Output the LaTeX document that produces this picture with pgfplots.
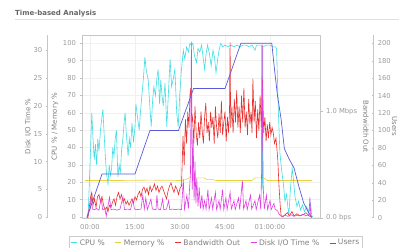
\documentclass[border=0pt]{standalone}
\usepackage{pgfplots}
\pgfplotsset{compat=1.18}
\usepackage{fontspec}
\setmainfont{DejaVu Sans}
\definecolor{cpuc}{HTML}{40DDE4}
\definecolor{memc}{HTML}{E8D43A}
\definecolor{bwc}{HTML}{E8302E}
\definecolor{diskc}{HTML}{E040E0}
\definecolor{usrc}{HTML}{5A5AD8}
\definecolor{txtc}{HTML}{9A9A9A}
\definecolor{labc}{HTML}{808080}
\tikzset{lab/.style={font=\fontsize{7}{8}\selectfont, text=labc}}
\pgfplotsset{
  txt/.style={
    /pgf/number format/assume math mode=true,
    ticklabel style={font=\fontsize{6.8}{7.5}\selectfont, text=txtc},
    tick style={gray!50, thin}, major tick length=2.5pt, tick align=outside,
    axis line style={gray!45},
  },
  common/.style={txt, scale only axis, width=238pt, height=183pt, at={(82pt,30pt)}, anchor=south west,
    xmin=-2.67, xmax=76.67},
}
\begin{document}
\begin{tikzpicture}
\path[use as bounding box] (0,0) rectangle (399pt,248pt);
\node[anchor=base west, inner sep=0pt, font=\bfseries\fontsize{7}{8}\selectfont, text=gray!80!black] at (15pt,232pt) {Time-based Analysis};
\draw[gray!25, line width=0.8pt] (15pt,229pt) -- (399pt,229pt);

% ---------- main axis: CPU / Memory
\begin{axis}[common, ymin=-0.6, ymax=104.8, ytick={0,10,...,100}, ytick pos=left,
  xtick={0,15,30,45,60}, xticklabels={00:00,15:00,30:00,45:00,01:00:00},
  grid=major, grid style={gray!12, thin}, xtick style={draw=none},
  ylabel={CPU \% / Memory \%},
  ylabel style={lab, at={([xshift=-27pt]axis description cs:0,0.5)}, anchor=center}]
\addplot[memc, line width=0.6pt] coordinates {
(-1.7,21) (10,21) (20,21.2) (30,21) (32,21.5) (33,22.5) (38,22.5) (39,21.5) (41,21.5) (42,21) (54,21) (55,22.5) (58,22.5) (59,21) (74,21)
};
\addplot[cpuc, line width=0.6pt] coordinates {
(-1.0,0) (-0.6,2) (0.2,40) (0.6,60) (1.0,45) (1.4,33) (1.8,42) (2.2,30) (2.6,45) (3.0,38) (3.5,50) (4.0,58) (4.3,62) (4.7,48) (5.1,35) (5.5,25) (6.0,19) (6.4,30) (6.8,24) (7.2,28) (7.6,40) (8.0,35) (8.4,45) (8.8,50) (9.3,23) (9.7,30) (10.1,25) (10.5,38) (11.0,46) (11.4,55) (11.7,60) (12.1,48) (12.7,35) (13.1,45) (13.5,40) (14.0,54) (14.5,43) (15.0,52) (15.3,65) (15.8,58) (16.4,50) (16.8,60) (17.3,70) (17.8,80) (18.3,92) (18.8,84) (19.4,79) (19.9,65) (20.4,52) (20.9,68) (21.3,75) (21.8,70) (22.3,80) (22.7,85) (23.2,65) (23.6,79) (24.0,70) (24.4,64) (25.0,77) (25.6,52) (26.1,70) (26.7,91) (27.2,75) (27.8,80) (28.3,85) (28.9,60) (29.4,52) (29.9,70) (30.4,83) (31.1,96) (31.6,91) (32.2,98) (32.8,95) (33.3,100) (33.8,99) (34.3,100) (34.8,93) (35.5,89) (36.0,97) (36.6,95) (37.2,99) (37.7,92) (38.2,85) (38.7,94) (39.2,99) (39.8,94) (40.4,87) (41.0,96) (41.5,92) (42.0,83) (42.5,90) (43.0,96) (43.6,100) (44.2,98) (45,99) (46,98) (47,99) (48,98) (49,99) (50,98) (51,99) (52,99) (53,98) (54,99) (55,96) (55.5,99) (57,99) (57.2,98) (57.3,15) (57.5,20) (57.6,98) (59,99) (60,99) (61,98) (61.8,98) (62.2,97) (62.8,60) (63.3,37) (63.8,28) (64.4,20) (65.0,9) (65.5,13) (66.0,5) (66.3,1) (66.8,16) (67.4,28) (67.8,22) (68.3,12) (69.0,6) (69.5,9) (70.2,4) (70.8,7) (71.5,3) (72.2,6) (72.8,3) (73.5,8) (73.9,1) (74.2,0)
};
\end{axis}

% ---------- bandwidth axis (right)
\begin{axis}[common, ymin=0, ymax=1.72, axis y line*=right, axis x line=none,
  ytick={0,1}, yticklabels={0.0 bps,1.0 Mbps},
  ylabel={Bandwidth Out},
  ylabel style={lab, at={([xshift=46pt]axis description cs:1,0.5)}, anchor=center, rotate=180}]
\addplot[bwc, line width=0.6pt] coordinates {
(-1.0,0) (-0.7,0) (0.2,0.2) (0.6,0.24) (1.0,0.12) (1.5,0.18) (2.0,0.1) (2.5,0.2) (3.0,0.22) (3.5,0.15) (4.0,0.2) (4.5,0.12) (5.0,0.08) (5.5,0.1) (6.0,0.06) (6.5,0.12) (7.0,0.1) (7.5,0.15) (8.0,0.18) (8.5,0.12) (9.0,0.2) (9.5,0.24) (10,0.18) (10.5,0.22) (11,0.15) (11.5,0.18) (12,0.13) (12.5,0.16) (13,0.12) (13.5,0.15) (14,0.18) (14.5,0.14) (15,0.2) (15.5,0.17) (16,0.22) (16.5,0.25) (17,0.2) (17.5,0.27) (18,0.29) (18.5,0.24) (19,0.28) (19.5,0.22) (20,0.3) (20.5,0.25) (21,0.28) (21.5,0.32) (22,0.26) (22.5,0.3) (23,0.24) (23.5,0.28) (24,0.3) (24.5,0.26) (25,0.22) (25.5,0.18) (26,0.25) (26.5,0.3) (27,0.33) (27.5,0.28) (28,0.24) (28.5,0.3) (29,0.27) (29.5,0.22) (30,0.28) (30.5,0.3) (31,0.77) (31.4,0.5) (31.8,0.93) (32.2,0.7) (32.6,1.0) (33.0,0.85) (33.3,1.15) (33.6,1.22) (33.9,0.9) (34.2,0.95) (34.6,0.7) (35.0,1.05) (35.4,0.8) (35.8,0.68) (36.2,0.9) (36.6,0.75) (37.0,1.0) (37.4,0.82) (37.8,0.7) (38.2,0.95) (38.6,1.08) (39.0,0.8) (39.4,0.9) (39.8,0.72) (40.2,1.0) (40.6,0.85) (41.0,0.95) (41.4,0.7) (41.8,1.05) (42.2,0.85) (42.6,0.75) (43.0,0.98) (43.4,0.8) (43.8,1.1) (44.2,0.78) (44.6,0.9) (45.0,1.0) (45.4,0.72) (45.8,0.95) (46.2,0.8) (46.5,1.0) (46.7,1.65) (46.9,0.85) (47.3,1.05) (47.7,0.8) (48.1,1.12) (48.5,0.9) (48.9,1.2) (49.3,0.85) (49.7,1.05) (50.1,0.8) (50.5,1.15) (50.9,0.9) (51.3,1.22) (51.7,0.85) (52.1,1.0) (52.5,0.78) (52.9,1.12) (53.3,0.88) (53.7,1.0) (54.0,0.8) (54.3,1.31) (54.7,0.9) (55.1,1.1) (55.5,0.75) (55.9,1.02) (56.3,0.82) (56.7,1.15) (57.1,0.85) (57.5,1.3) (57.9,0.8) (58.3,0.95) (58.7,0.72) (59.1,0.88) (59.5,0.75) (59.9,0.9) (60.3,0.78) (60.7,0.85) (61.1,0.8) (61.5,0.7) (62.0,0.75) (62.6,0.55) (63.0,0.3) (63.4,0.12) (63.7,0.02) (64.3,0.01) (65,0.03) (65.8,0.05) (66.5,0.02) (67.3,0.06) (68,0.02) (69,0.04) (70,0.02) (71,0.03) (72,0.05) (73,0.02) (74,0.01)
};
\end{axis}

% ---------- disk axis (scale only, left)
\begin{axis}[txt, scale only axis, width=10pt, height=183pt, at={(47pt,30pt)}, anchor=south west,
  xmin=0, xmax=1, ymin=-0.1, ymax=32.7, axis y line=left, axis x line=none, axis line style={-},
  ytick={0,5,...,30}, ylabel={Disk I/O Time \%},
  ylabel style={lab, at={([xshift=-19pt]axis description cs:0,0.5)}, anchor=center}]
\end{axis}
\begin{axis}[common, ymin=-0.1, ymax=32.7, hide axis]
\addplot[diskc, line width=0.6pt] coordinates {
(-1,0) (-0.5,1.2) (0,1.5) (0.4,4) (0.8,1.5) (1.5,1.4) (2.2,1.6) (3.0,1.3) (3.7,3.5) (4.2,1.4) (5.0,1.5) (5.4,0.2) (5.8,1.5) (6.5,3.6) (7.0,1.4) (8,1.5) (9,1.3) (10,1.5) (11,3.7) (11.5,1.4) (12.5,1.5) (13.5,1.4) (14.3,3.2) (14.8,1.5) (16,1.4) (17,1.5) (17.6,4.0) (18.1,1.5) (18.6,3.5) (19.1,1.4) (20.3,3.3) (20.8,1.5) (22,1.4) (22.3,4.0) (22.7,1.5) (23.5,1.4) (24.2,3.3) (24.6,1.4) (25.5,1.5) (26.2,3.0) (26.6,1.4) (27.5,1.5) (28.5,1.4) (29.5,1.5) (30.5,1.4) (31.1,6.8) (31.5,1.5) (32.3,4) (32.8,1.6) (33.5,8) (33.8,31.5) (34.1,5) (34.4,14) (34.7,3) (35.0,10) (35.3,2.5) (35.6,7) (36.0,2) (36.4,5.4) (36.8,1.6) (37.3,4) (37.7,1.5) (38.2,3) (38.7,1.5) (39.3,5) (39.7,1.4) (40.5,3.5) (40.9,1.5) (41.8,4.5) (42.2,1.4) (43,3) (43.4,1.5) (44.2,5) (44.6,1.4) (45.3,3.5) (45.7,1.4) (46.7,4.5) (47.1,1.5) (48,3) (48.4,1.4) (49.5,3.5) (49.9,1.4) (50.8,6.6) (51.2,1.5) (52,3) (52.4,1.4) (53.5,4) (53.9,1.5) (55,3) (55.4,1.4) (56.5,4) (56.9,1.5) (57.2,8) (57.4,31) (57.7,6) (58.1,1.5) (58.8,4) (59.2,1.4) (60,3) (60.4,1.4) (61.3,2.5) (61.7,1.5) (62.5,1.2) (63,0.6) (63.5,0.3) (64,0.2) (65,0.4) (66,0.2) (67,0.5) (68,0.2) (69,0.4) (70,0.3) (71,0.6) (72,0.3) (73,0.5) (73.3,3.6) (73.6,0.3) (74,0.2)
};
\end{axis}

% ---------- users axis (scale only, right)
\begin{axis}[txt, scale only axis, width=10pt, height=183pt, at={(363pt,30pt)}, anchor=south west,
  xmin=0, xmax=1, ymin=-0.5, ymax=209.5, axis y line=right, axis x line=none, axis line style={-},
  ytick={0,20,...,200}, ylabel={Users},
  ylabel style={lab, at={([xshift=21.5pt]axis description cs:1,0.5)}, anchor=center, rotate=180}]
\end{axis}
\begin{axis}[common, ymin=-0.5, ymax=209.5, hide axis,
  legend columns=5,
  legend style={at={(axis description cs:0.563,-0.098)}, anchor=north, draw=gray!40,
    font=\fontsize{7.6}{9}\selectfont, text=labc, inner sep=1.2pt,
    /tikz/every even column/.append style={column sep=8pt}},
  legend image code/.code={\draw[#1] (0pt,0pt) -- (6pt,0pt);}]
\addlegendimage{draw=cpuc, line width=1pt}\addlegendentry{CPU \%}
\addlegendimage{draw=memc, line width=1pt}\addlegendentry{Memory \%}
\addlegendimage{draw=bwc, line width=1pt}\addlegendentry{Bandwidth Out}
\addlegendimage{draw=diskc, line width=1pt}\addlegendentry{Disk I/O Time \%}
\addplot[usrc, line width=0.7pt] coordinates {
(-1,0) (4,50) (15,50) (20,100) (29.5,100) (34.5,148) (45,148) (50.3,200) (60.6,200) (61.5,170) (62.5,140) (63.7,113) (64.8,79) (66.4,67) (68,57) (69.6,36) (71.2,17) (72.8,6) (73.9,0)
};
\addlegendentry{Users}
\end{axis}
\end{tikzpicture}
\end{document}
